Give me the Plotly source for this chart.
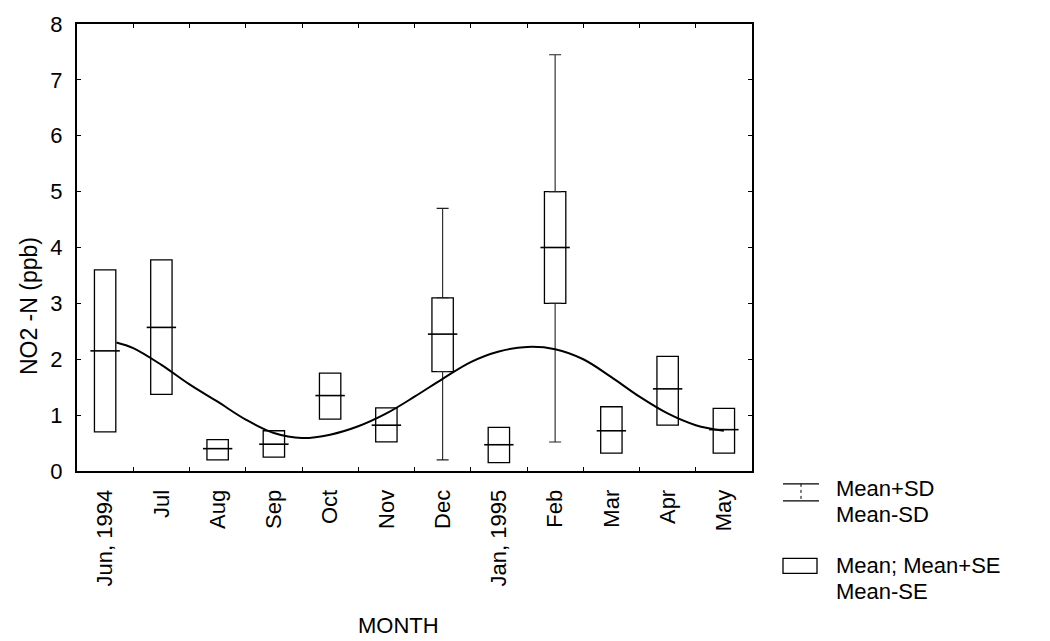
import plotly.graph_objects as go

# Monthly NO2-N concentrations (ppb): mean, mean ± SE (box) and mean ± SD (whiskers)
months = ["Jun, 1994", "Jul", "Aug", "Sep", "Oct", "Nov", "Dec",
          "Jan, 1995", "Feb", "Mar", "Apr", "May"]
mean_vals = [2.15, 2.57, 0.40, 0.48, 1.35, 0.82, 2.45, 0.47, 4.00, 0.72, 1.47, 0.74]
se_upper = [3.60, 3.78, 0.56, 0.72, 1.75, 1.13, 3.10, 0.78, 5.00, 1.15, 2.05, 1.12]
se_lower = [0.70, 1.37, 0.20, 0.25, 0.93, 0.52, 1.78, 0.15, 3.00, 0.32, 0.82, 0.32]
sd_upper = [None, None, None, None, None, None, 4.70, None, 7.45, None, None, None]
sd_lower = [None, None, None, None, None, None, 0.20, None, 0.52, None, None, None]

# Smoothed seasonal trend (position along the month axis, value)
trend_x = [0.2, 0.5, 1.0, 1.5, 2.0, 2.5, 3.0, 3.5, 4.0, 4.5, 5.0, 5.5,
           6.0, 6.5, 7.0, 7.5, 8.0, 8.5, 9.0, 9.5, 10.0, 10.5, 11.0]
trend_y = [2.30, 2.20, 1.90, 1.55, 1.24, 0.92, 0.68, 0.59, 0.65, 0.80, 1.03, 1.33,
           1.65, 1.95, 2.14, 2.22, 2.18, 2.00, 1.68, 1.33, 1.03, 0.82, 0.72]

FONT = "Liberation Sans, Arial, Helvetica, sans-serif"
FS = 22
W, H = 1050, 641
L, R, T, B = 77, 752, 21, 471  # plot area in pixels


def px_x(px):
    return (px - L) / (R - L)


def px_y(py):
    return (B - py) / (B - T)


fig = go.Figure()

# SD whiskers (upper and lower segments outside the SE box)
sd_idx = [i for i, v in enumerate(sd_upper) if v is not None]
fig.add_trace(go.Scatter(
    x=[months[i] for i in sd_idx], y=[se_upper[i] for i in sd_idx],
    mode="markers", marker=dict(size=1, color="rgba(0,0,0,0)"),
    error_y=dict(type="data", symmetric=False,
                 array=[sd_upper[i] - se_upper[i] for i in sd_idx],
                 arrayminus=[0 for _ in sd_idx],
                 width=6, thickness=1.1, color="#222222"),
    hoverinfo="skip", showlegend=False))
fig.add_trace(go.Scatter(
    x=[months[i] for i in sd_idx], y=[se_lower[i] for i in sd_idx],
    mode="markers", marker=dict(size=1, color="rgba(0,0,0,0)"),
    error_y=dict(type="data", symmetric=False,
                 array=[0 for _ in sd_idx],
                 arrayminus=[se_lower[i] - sd_lower[i] for i in sd_idx],
                 width=6, thickness=1.1, color="#222222"),
    hoverinfo="skip", showlegend=False))

# SE boxes
fig.add_trace(go.Bar(
    x=months, y=[u - l for u, l in zip(se_upper, se_lower)], base=se_lower,
    width=0.38, marker=dict(color="rgba(0,0,0,0)", line=dict(color="black", width=1.3)),
    hoverinfo="skip", showlegend=False))

# Mean lines
fig.add_trace(go.Scatter(
    x=months, y=mean_vals, mode="markers",
    marker=dict(symbol="line-ew", size=21, line=dict(color="black", width=1.6)),
    hoverinfo="skip", showlegend=False))

# Seasonal trend curve
fig.add_trace(go.Scatter(
    x=trend_x, y=trend_y, xaxis="x2", mode="lines",
    line=dict(color="black", width=2, shape="spline", smoothing=1.0),
    hoverinfo="skip", showlegend=False))

# Custom legend
shapes = []
annotations = []
wx0, wx1, wy0, wy1 = 783, 819, 484, 501
shapes += [
    dict(type="line", xref="paper", yref="paper", x0=px_x(wx0), x1=px_x(wx1),
         y0=px_y(wy0), y1=px_y(wy0), line=dict(color="black", width=1.3)),
    dict(type="line", xref="paper", yref="paper", x0=px_x(wx0), x1=px_x(wx1),
         y0=px_y(wy1), y1=px_y(wy1), line=dict(color="black", width=1.3)),
    dict(type="line", xref="paper", yref="paper", x0=px_x((wx0 + wx1) / 2), x1=px_x((wx0 + wx1) / 2),
         y0=px_y(wy0), y1=px_y(wy1), line=dict(color="black", width=1, dash="dot")),
]
shapes.append(dict(type="rect", xref="paper", yref="paper",
                   x0=px_x(783), x1=px_x(817), y0=px_y(559), y1=px_y(574),
                   line=dict(color="black", width=1.3)))
legend_lines = [("Mean+SD", 489), ("Mean-SD", 515), ("Mean; Mean+SE", 566), ("Mean-SE", 592)]
for txt, yy in legend_lines:
    annotations.append(dict(text=txt, xref="paper", yref="paper", x=px_x(834), y=px_y(yy),
                            xanchor="left", yanchor="middle", showarrow=False,
                            font=dict(family=FONT, size=FS, color="black")))

# Axis titles
annotations.append(dict(text="NO2 -N (ppb)", xref="paper", yref="paper",
                        x=px_x(29), y=px_y(305), xanchor="center", yanchor="middle",
                        textangle=-90, showarrow=False,
                        font=dict(family=FONT, size=FS + 1, color="black")))
annotations.append(dict(text="MONTH", xref="paper", yref="paper",
                        x=px_x(398), y=px_y(627), xanchor="center", yanchor="middle",
                        showarrow=False, font=dict(family=FONT, size=FS, color="black")))

fig.update_layout(
    width=W, height=H,
    margin=dict(l=L, r=W - R, t=T, b=H - B),
    paper_bgcolor="white", plot_bgcolor="white",
    font=dict(family=FONT, size=FS, color="black"),
    barmode="overlay",
    shapes=shapes, annotations=annotations,
    xaxis=dict(type="category", categoryorder="array", categoryarray=months,
               range=[-0.5, 11.5], showline=True, linecolor="black",
               linewidth=2, mirror="ticks", ticks="inside", tickson="boundaries",
               ticklen=4, tickcolor="black", tickangle=-90, showgrid=False,
               ticklabelstandoff=8, tickfont=dict(family=FONT, size=FS)),
    xaxis2=dict(overlaying="x", range=[-0.5, 11.5], visible=False),
    yaxis=dict(range=[0, 8], dtick=1, showline=True, linecolor="black", linewidth=2,
               mirror="ticks", ticks="inside", ticklen=4, tickcolor="black",
               showgrid=False, zeroline=False, ticklabelstandoff=8,
               tickfont=dict(family=FONT, size=FS)),
)

fig.write_html("out.html")
